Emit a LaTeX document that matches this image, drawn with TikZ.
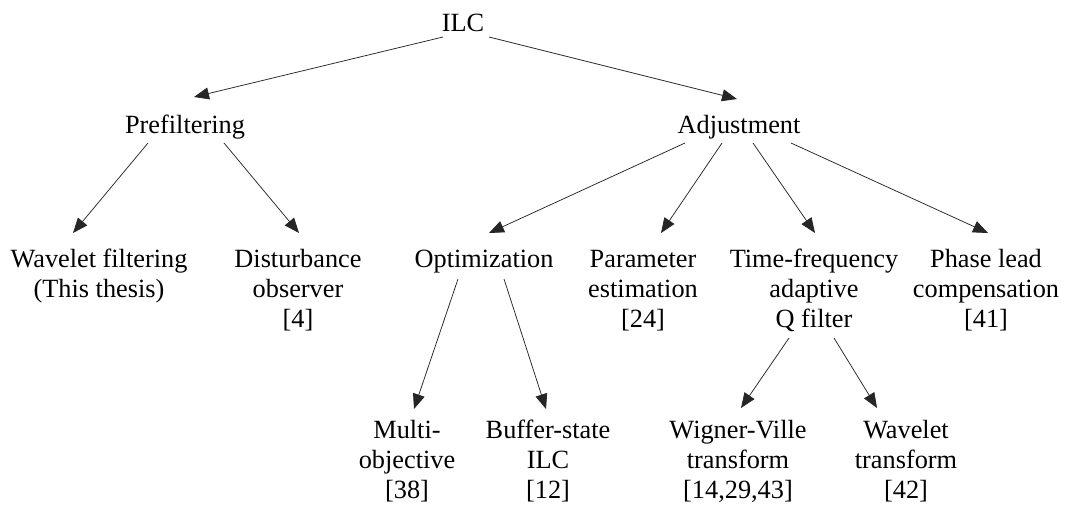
\documentclass[tikz,border=0pt]{standalone}
\usepackage{fontspec}
\setmainfont{Liberation Serif}
\usepackage{tikz}
\usetikzlibrary{arrows.meta}

\tikzset{
    item/.style={align=center, anchor=base, inner sep=0pt,
        font=\fontsize{26.3}{30}\selectfont},
    arr/.style={draw=black!85, line width=0.75pt,
        -{Triangle[length=15pt, width=12pt]}}
}

\begin{document}
\begin{tikzpicture}[x=1pt, y=-1pt]
    \useasboundingbox (0,0) rectangle (1067,504);

    % top levels (base = last line)
    \node[item] (ilc) at (463,31) {ILC};
    \node[item] (pref) at (185,133) {Prefiltering};
    \node[item] (adj) at (739,133) {Adjustment};

    % second row
    \node[item] (wfilt) at (99,297) {Wavelet filtering\\(This thesis)};
    \node[item] (dist) at (298,327) {Disturbance\\observer\\{[4]}};
    \node[item] (opt) at (484,267) {Optimization};
    \node[item] (param) at (643,327) {Parameter\\estimation\\{[24]}};
    \node[item] (tfq) at (814,327) {Time-frequency\\adaptive\\Q filter};
    \node[item] (phase) at (986,327) {Phase lead\\compensation\\{[41]}};

    % third row
    \node[item] (multi) at (407,498) {Multi-\\objective\\{[38]}};
    \node[item] (buffer) at (548,498) {Buffer-state\\ILC\\{[12]}};
    \node[item] (wigner) at (738,498) {Wigner-Ville\\transform\\{[14,29,43]}};
    \node[item] (wtrans) at (906,498) {Wavelet\\transform\\{[42]}};

    % connectors
    \foreach \from/\fx/\fy/\to/\tx/\ty in {
        ilc/-20/-6/pref/9/36,
        ilc/26/-6/adj/-2/34,
        pref/-37/-10/wfilt/-26/64,
        pref/39/-10/dist/1/94,
        adj/-54/-10/opt/5/34,
        adj/-17/-10/param/18/94,
        adj/14/-10/tfq/1/94,
        adj/52/-10/phase/2/94,
        opt/-26/-12/multi/7/89,
        opt/20/-12/buffer/-2/89,
        tfq/-25/-11/wigner/3/90,
        tfq/20/-11/wtrans/-29/90}{

        \draw[arr]
            ([xshift=\fx pt, yshift=\fy pt]\from.base)
            -- ([xshift=\tx pt, yshift=\ty pt]\to.base);
    }
\end{tikzpicture}
\end{document}
